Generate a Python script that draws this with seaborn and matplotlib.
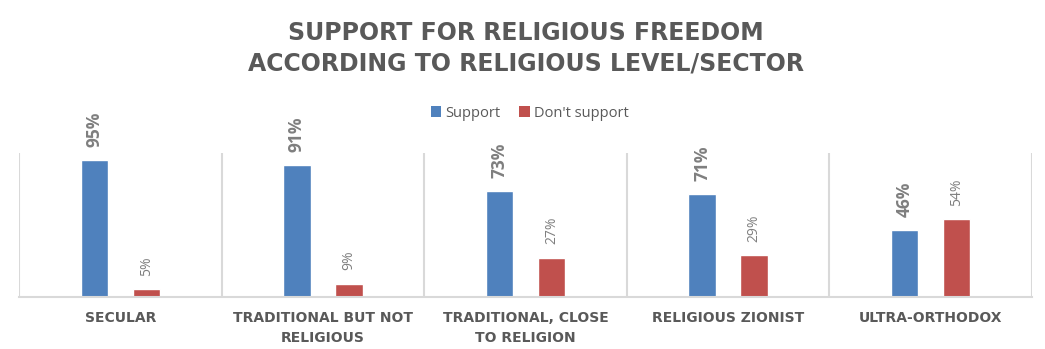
import matplotlib
matplotlib.use("Agg")
import matplotlib.pyplot as plt
import seaborn as sns
import pandas as pd
from matplotlib.patches import Patch

categories = ["SECULAR", "TRADITIONAL BUT NOT\nRELIGIOUS", "TRADITIONAL, CLOSE\nTO RELIGION",
              "RELIGIOUS ZIONIST", "ULTRA-ORTHODOX"]
series = ["Support", "Don't support"]
support = [95, 91, 73, 71, 46]
dont_support = [5, 9, 27, 29, 54]
title = "SUPPORT FOR RELIGIOUS FREEDOM\nACCORDING TO RELIGIOUS LEVEL/SECTOR"

BLUE = "#4f81bd"
RED = "#c0504d"
TXT = "#595959"
LBL = "#7f7f7f"
GRID = "#d9d9d9"

sns.set_theme(style="white")
plt.rcParams['font.family'] = ['Open Sans', 'DejaVu Sans']

df = pd.DataFrame({
    "category": categories * 2,
    "series": [series[0]] * len(categories) + [series[1]] * len(categories),
    "value": support + dont_support,
})

fig = plt.figure(figsize=(10.45, 3.49), dpi=100)
ax = fig.add_axes([0.01818, 0.1504, 0.96938, 0.4126])

sns.barplot(data=df, x="category", y="value", hue="series", order=categories,
            hue_order=series, palette=[BLUE, RED], width=0.513, gap=0.47,
            legend=False, ax=ax, saturation=1)

ax.set_xlim(-0.5, len(categories) - 0.5)
ax.set_ylim(0, 100)
ax.set_xlabel("")
ax.set_ylabel("")
ax.set_yticks([])
for s in ["top", "left", "right"]:
    ax.spines[s].set_visible(False)
ax.spines["bottom"].set_color(GRID)
ax.spines["bottom"].set_linewidth(1.5)
ax.vlines([i - 0.5 for i in range(len(categories) + 1)], 0, 100, colors=GRID, linewidth=1.5, zorder=0)

ax.tick_params(axis="x", length=0, pad=10.5)
ax.set_xticks(range(len(categories)))
ax.set_xticklabels(categories, va="top")
for t in ax.get_xticklabels():
    t.set_family("DejaVu Sans")
    t.set_fontweight("bold")
    t.set_fontsize(10)
    t.set_color(TXT)
    t.set_linespacing(1.5)

ax.bar_label(ax.containers[0], labels=[f"{v}%" for v in support], padding=9.5, rotation=90,
             fontsize=12.5, fontweight="bold", color=LBL)
ax.bar_label(ax.containers[1], labels=[f"{v}%" for v in dont_support], padding=9.5, rotation=90,
             fontsize=10, color=LBL)

fig.text(0.503, 0.862, title, ha="center", va="center", fontsize=17, fontweight="bold",
         color=TXT, linespacing=1.38, family="DejaVu Sans")

handles = [Patch(facecolor=BLUE, edgecolor="none"), Patch(facecolor=RED, edgecolor="none")]
fig.legend(handles, series, loc="center", bbox_to_anchor=(0.5067, 0.676), ncol=2, frameon=False,
           fontsize=10.5, handlelength=0.75, handleheight=0.75, handletextpad=0.25,
           columnspacing=1.3, labelcolor=TXT)

fig.savefig("out.png", dpi=100)
